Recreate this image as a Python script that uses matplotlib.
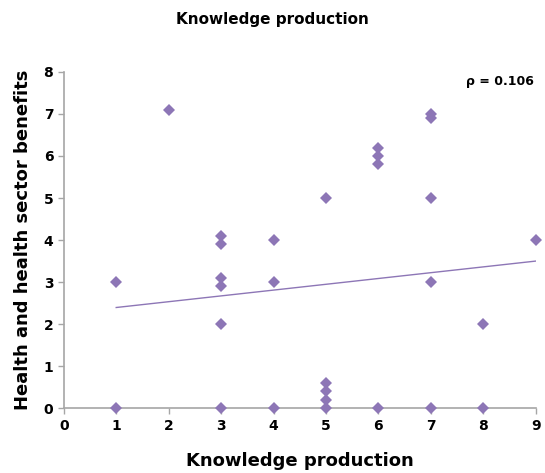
import matplotlib
matplotlib.use('Agg')
import matplotlib.pyplot as plt
import numpy as np

# knowledge production score vs health benefits score
x_vals = [1, 1,
          2,
          3, 3, 3, 3, 3, 3,
          4, 4, 4,
          5, 5, 5, 5, 5,
          6, 6, 6, 6,
          7, 7, 7, 7, 7,
          8, 8,
          9]
y_vals = [3, 0,
          7.1,
          4.1, 3.9, 3.1, 2.9, 2, 0,
          4, 3, 0,
          5, 0.6, 0.4, 0.2, 0,
          6.2, 6.0, 5.8, 0,
          7.0, 6.9, 5, 3, 0,
          2, 0,
          4]
rho_text = "ρ = 0.106"

purple = '#8d76b6'
grey = '#a6a6a6'

fig = plt.figure(figsize=(5.45, 4.73), dpi=100)
ax = fig.add_axes([0.117, 0.137, 0.866, 0.711])

ax.plot(x_vals, y_vals, 'D', color=purple, markersize=6.5, markeredgewidth=0,
        clip_on=False, zorder=3)

# linear trend line
k, b = np.polyfit(x_vals, y_vals, 1)
xt = np.array([min(x_vals), max(x_vals)])
ax.plot(xt, k * xt + b, color=purple, linewidth=1)

ax.set_xlim(0, 9)
ax.set_ylim(0, 8)
ax.set_xticks(range(0, 10))
ax.set_yticks(range(0, 9))

for s in ['top', 'right']:
    ax.spines[s].set_visible(False)
for s in ['left', 'bottom']:
    ax.spines[s].set_color(grey)
    ax.spines[s].set_linewidth(1.2)
ax.tick_params(colors=grey, length=4, width=1, labelcolor='black', labelsize=10)
for lab in ax.get_xticklabels() + ax.get_yticklabels():
    lab.set_fontweight('bold')

ax.set_xlabel('Knowledge production', fontsize=13, fontweight='bold', labelpad=14)
ax.set_ylabel('Health and health sector benefits', fontsize=13, fontweight='bold', labelpad=8)
fig.suptitle('Knowledge production', fontsize=11, fontweight='bold', y=0.975)
ax.text(0.995, 0.99, rho_text, transform=ax.transAxes, ha='right', va='top',
        fontsize=9, fontweight='bold')

fig.savefig('out.png', dpi=100)
